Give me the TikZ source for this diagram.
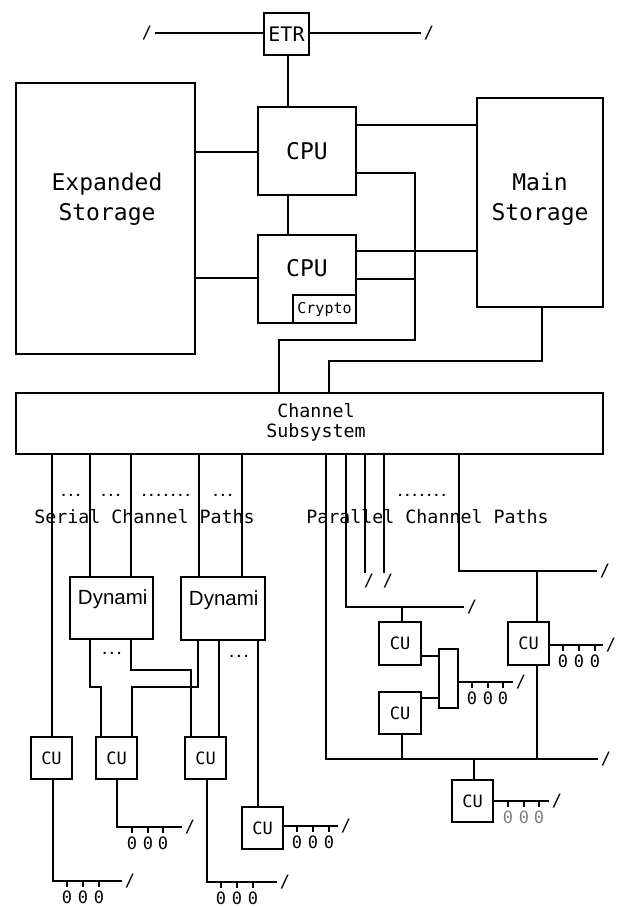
\documentclass[tikz,border=0pt]{standalone}
\usepackage{fontspec}
\setmonofont{DejaVu Sans Mono}
\newfontfamily\helv{Liberation Sans}
\usetikzlibrary{positioning}

\tikzset{
  box/.style={draw, anchor=north west, inner sep=0pt, outer sep=0pt},
  cu/.style={box, minimum width=41pt, minimum height=42pt,
    font=\ttfamily\fontsize{17}{17}\selectfont},
  big/.style={font=\ttfamily\fontsize{23}{30}\selectfont, align=center, inner sep=0pt},
  mid/.style={font=\ttfamily\fontsize{18.3}{20}\selectfont, align=center, inner sep=0pt},
  dots/.style={font=\ttfamily\bfseries\fontsize{12}{12}\selectfont, inner sep=0pt},
  cut/.style={font=\ttfamily\fontsize{17}{17}\selectfont, inner xsep=2pt, inner ysep=0pt},
  zero/.style={font=\ttfamily\fontsize{17}{17}\selectfont, inner sep=0pt, anchor=north},
  swtext/.style={font=\helv\fontsize{20.5}{20.5}\selectfont, anchor=base west, inner sep=0pt}
}

\begin{document}
\begin{tikzpicture}[x=1pt, y=-1pt, line width=1.9pt]
  \useasboundingbox (0,0) rectangle (616,907);

  % processor complex
  \node[box, minimum width=45pt, minimum height=42pt,
    font=\ttfamily\fontsize{20}{20}\selectfont] (etr) at (264,13) {ETR};
  \node[cut] (etrL) at (147,33) {/};
  \node[cut] (etrR) at (429,33) {/};
  \node[box, minimum width=179pt, minimum height=271pt] (exp) at (16,83) {};
  \node[big] (expLbl) at (107,199) {Expanded\\Storage};
  \node[box, minimum width=98pt, minimum height=88pt,
    font=\ttfamily\fontsize{23}{23}\selectfont] (cpuA) at (258,107) {CPU};
  \node[box, minimum width=98pt, minimum height=88pt] (cpuB) at (258,235) {};
  \node[big] (cpuBLbl) at (307,268) {CPU};
  \node[box, minimum width=63pt, minimum height=28pt,
    font=\ttfamily\fontsize{15}{15}\selectfont] (crypto) at (293,295) {Crypto};
  \node[box, minimum width=126pt, minimum height=209pt] (main) at (477,98) {};
  \node[big] (mainLbl) at (540,199) {Main\\Storage};

  \draw (etr.west |- etrL) -- (etrL.east);
  \draw (etr.east |- etrR) -- (etrR.west);
  \draw (etr.south -| 288,0) -- (cpuA.north -| 288,0);
  \draw (cpuA.west |- 0,152) -- (exp.east |- 0,152);
  \draw (cpuB.west |- 0,278) -- (exp.east |- 0,278);
  \draw (cpuA.south -| 288,0) -- (cpuB.north -| 288,0);
  \draw (cpuA.east |- 0,125) -- (main.west |- 0,125);
  \draw (cpuB.east |- 0,251) -- (main.west |- 0,251);
  \draw (cpuB.east |- 0,279) -- (415,279);

  % channel subsystem
  \node[box, minimum width=587pt, minimum height=61pt] (chan) at (16,393) {};
  \node[mid] (chanLbl) at (316,422) {Channel\\Subsystem};
  \draw (cpuA.east |- 0,173) -| (415,340) -| (chan.north -| 279,0);
  \draw (main.south -| 542,0) |- (542,361) -| (chan.north -| 329,0);

  \node[mid] (serLbl) at (144.5,517) {Serial Channel Paths};
  \node[mid] (parLbl) at (427.5,517) {Parallel Channel Paths};
  \node[dots] (dsA) at (71,495) {...};
  \node[dots] (dsB) at (111,495) {...};
  \node[dots] (dsC) at (166,495) {.......};
  \node[dots] (dsD) at (223,495) {...};
  \node[dots] (dpA) at (422,495) {.......};

  % serial side
  \node[box, minimum width=83pt, minimum height=62pt] (dynA) at (70,577) {};
  \node[swtext] (dynALbl) at (77,604) {Dynami};
  \node[box, minimum width=84pt, minimum height=63pt] (dynB) at (181,577) {};
  \node[swtext] (dynBLbl) at (188,605) {Dynami};
  \node[dots] (ddA) at (112,653) {...};
  \node[dots] (ddB) at (239,656) {...};
  \node[cu] (cuA) at (31,737) {CU};
  \node[cu] (cuB) at (96,737) {CU};
  \node[cu] (cuC) at (185,737) {CU};
  \node[cu] (cuD) at (242,807) {CU};

  \draw (chan.south -| 52,0) -- (cuA.north -| 52,0);
  \draw (chan.south -| 90,0) -- (dynA.north -| 90,0);
  \draw (chan.south -| 131,0) -- (dynA.north -| 131,0);
  \draw (chan.south -| 199,0) -- (dynB.north -| 199,0);
  \draw (chan.south -| 242,0) -- (dynB.north -| 242,0);
  \draw (dynA.south -| 90,0) |- (101,687) -- (cuB.north -| 101,0);
  \draw (dynA.south -| 131,0) |- (191,670) -- (cuC.north -| 191,0);
  \draw (dynB.south -| 198,0) |- (132,687) -- (cuB.north -| 132,0);
  \draw (dynB.south -| 219,0) -- (cuC.north -| 219,0);
  \draw (dynB.south -| 258,0) -- (cuD.north -| 258,0);

  % devices behind serial CUs
  \node[cut] (cutA) at (130,881) {/};
  \draw (cuA.south -| 53,0) |- (cutA.west);
  \foreach \t in {67,83,99} {
    \draw (\t,881) -- (\t,887);
    \node[zero] (zA\t) at (\t,890) {0};
  }
  \node[cut] (cutB) at (190,827) {/};
  \draw (cuB.south -| 117,0) |- (cutB.west);
  \foreach \t in {132,148,163} {
    \draw (\t,827) -- (\t,833);
    \node[zero] (zB\t) at (\t,836) {0};
  }
  \node[cut] (cutC) at (285,882) {/};
  \draw (cuC.south -| 207,0) |- (cutC.west);
  \foreach \t in {221,237,253} {
    \draw (\t,882) -- (\t,888);
    \node[zero] (zC\t) at (\t,891) {0};
  }
  \node[cut] (cutD) at (346,826) {/};
  \draw (cuD.east |- cutD) -- (cutD.west);
  \foreach \t in {297,313,329} {
    \draw (\t,826) -- (\t,832);
    \node[zero] (zD\t) at (\t,835) {0};
  }

  % parallel side
  \node[cu, minimum height=43pt] (cuE) at (508,622) {CU};
  \node[cu, minimum width=42pt, minimum height=43pt] (cuF) at (379,622) {CU};
  \node[cu, minimum width=42pt] (cuG) at (379,692) {CU};
  \node[box, minimum width=19pt, minimum height=59pt] (mux) at (439,649) {};
  \node[cu] (cuH) at (452,780) {CU};

  \node[cut] (cutBus) at (606,759) {/};
  \node[cut] (cutP) at (472,607) {/};
  \node[cut] (cutQ) at (369,581) {/};
  \node[cut] (cutR) at (388,581) {/};
  \node[cut] (cutS) at (605,571) {/};
  \draw (chan.south -| 326,0) |- (cutBus.west);
  \draw (chan.south -| 346,0) |- (cutP.west);
  \draw (chan.south -| 365,0) -- (cutQ.north -| 365,0);
  \draw (chan.south -| 384,0) -- (cutR.north -| 384,0);
  \draw (chan.south -| 459,0) |- (cutS.west);
  \draw (537,571) -- (cuE.north -| 537,0);
  \draw (cuE.south -| 537,0) -- (537,759);
  \draw (cuF.north -| 402,0) -- (402,607);
  \draw (cuG.south -| 402,0) -- (402,759);
  \draw (cuF.east |- 0,656) -- (mux.west |- 0,656);
  \draw (cuG.east |- 0,698) -- (mux.west |- 0,698);
  \draw (474,759) -- (cuH.north -| 474,0);

  % devices behind parallel CUs
  \node[cut] (cutM) at (521,682) {/};
  \draw (mux.east |- cutM) -- (cutM.west);
  \foreach \t in {472,488,503} {
    \draw (\t,682) -- (\t,688);
    \node[zero] (zM\t) at (\t,691) {0};
  }
  \node[cut] (cutE) at (611,645) {/};
  \draw (cuE.east |- cutE) -- (cutE.west);
  \foreach \t in {563,579,595} {
    \draw (\t,645) -- (\t,651);
    \node[zero] (zE\t) at (\t,654) {0};
  }
  \node[cut] (cutH) at (557,801) {/};
  \draw (cuH.east |- cutH) -- (cutH.west);
  \foreach \t in {508,524,539} {
    \draw (\t,801) -- (\t,807);
    \node[zero, gray] (zH\t) at (\t,810) {0};
  }
\end{tikzpicture}
\end{document}
